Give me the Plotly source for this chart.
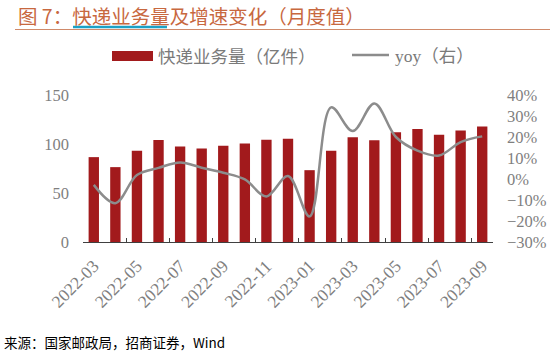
import plotly.graph_objects as go

months = ["2022-03", "2022-04", "2022-05", "2022-06", "2022-07", "2022-08", "2022-09",
          "2022-10", "2022-11", "2022-12", "2023-01", "2023-02", "2023-03", "2023-04",
          "2023-05", "2023-06", "2023-07", "2023-08", "2023-09"]
volume = [86.6, 76.4, 93.0, 104.0, 97.5, 95.5, 98.3, 100.6, 104.4, 105.4, 73.3, 93.1,
          106.8, 103.7, 111.9, 115.4, 109.5, 113.9, 117.8]
yoy = [-2.8, -11.5, 1.9, 5.3, 7.9, 5.4, 3.0, -0.2, -8.3, 1.4, -17.8, 34.1, 22.8, 36.0,
       20.0, 13.5, 11.2, 17.6, 20.3]
left_ticks = [0, 50, 100, 150]
right_ticks = [-30, -20, -10, 0, 10, 20, 30, 40]
right_labels = ["−30%", "−20%", "−10%", "0%", "10%", "20%", "30%", "40%"]
x_labels = months[::2]

title_text = "图 7：快递业务量及增速变化（月度值）"
bar_name = "快递业务量（亿件）"
line_name = "yoy（右）"
source_text = "来源：国家邮政局，招商证券，Wind"

W, H = 550, 356
L, R, T, B = 83, 57, 95, 114
PW, PH = W - L - R, H - T - B


def px(x):
    return (x - L) / PW


def py(y):
    return (H - B - y) / PH


BAR_COLOR = "#A21A1C"
LINE_COLOR = "#8C8C8C"
TICK_FONT = dict(family="Liberation Serif, serif", size=16.5, color="#7F7F7F")
X_TICK_FONT = dict(family="Liberation Serif, serif", size=17.5, color="#7F7F7F")

fig = go.Figure()
fig.add_trace(go.Bar(x=months, y=volume, name=bar_name, marker_color=BAR_COLOR,
                     marker_line_width=0, width=0.48, yaxis="y"))
fig.add_trace(go.Scatter(x=months, y=yoy, name=line_name, mode="lines",
                         line=dict(color=LINE_COLOR, width=2.5, shape="spline", smoothing=1),
                         yaxis="y2"))

fig.update_layout(
    width=W, height=H,
    margin=dict(l=L, r=R, t=T, b=B, pad=0, autoexpand=False),
    paper_bgcolor="white", plot_bgcolor="white",
    showlegend=False,
    xaxis=dict(type="category", categoryorder="array", categoryarray=months,
               tickmode="array", tickvals=x_labels, ticktext=x_labels,
               tickson="boundaries", ticks="inside", ticklen=4, tickwidth=1,
               tickcolor="#404040", tickangle=-45, tickfont=X_TICK_FONT,
               ticklabelstandoff=6, automargin=False,
               showline=True, linecolor="#404040", linewidth=1,
               showgrid=False, zeroline=False, range=[-0.5, 18.5]),
    yaxis=dict(range=[0, 150], tickmode="array", tickvals=left_ticks,
               showgrid=False, zeroline=False, showline=False, ticks="",
               tickfont=TICK_FONT, ticklabelstandoff=13, automargin=False),
    yaxis2=dict(range=[-30, 40], tickmode="array", tickvals=right_ticks, ticktext=right_labels,
                overlaying="y", side="right",
                showgrid=False, zeroline=False, showline=False, ticks="",
                tickfont=TICK_FONT, ticklabelstandoff=13, automargin=False),
)

shapes = [
    dict(type="line", xref="paper", yref="paper", x0=px(15), x1=px(550), y0=py(29.5), y1=py(29.5),
         line=dict(color="#D08A6A", width=1)),
    dict(type="line", xref="paper", yref="paper", x0=px(73), x1=px(167), y0=py(27), y1=py(27),
         line=dict(color="#1BA1C6", width=2.5)),
    dict(type="rect", xref="paper", yref="paper", x0=px(112), x1=px(153), y0=py(61), y1=py(51),
         fillcolor=BAR_COLOR, line=dict(width=0)),
    dict(type="line", xref="paper", yref="paper", x0=px(352), x1=px(389), y0=py(55), y1=py(55),
         line=dict(color=LINE_COLOR, width=2.5)),
]
annotations = [
    dict(text=title_text, xref="paper", yref="paper", x=px(16), y=py(15), xanchor="left",
         yanchor="middle", showarrow=False,
         font=dict(family="Noto Sans CJK SC", size=19.5, color="#C8683F")),
    dict(text=bar_name, xref="paper", yref="paper", x=px(156), y=py(56), xanchor="left",
         yanchor="middle", showarrow=False,
         font=dict(family="Noto Sans CJK SC", size=17.5, color="#7A7A7A")),
    dict(text=line_name, xref="paper", yref="paper", x=px(393), y=py(56), xanchor="left",
         yanchor="middle", showarrow=False,
         font=dict(family="Liberation Serif, Noto Sans CJK SC", size=17.5, color="#7A7A7A")),
    dict(text=source_text, xref="paper", yref="paper", x=px(2), y=py(342), xanchor="left",
         yanchor="middle", showarrow=False,
         font=dict(family="Noto Sans CJK SC", size=13.5, color="#000000")),
]
fig.update_layout(shapes=shapes, annotations=annotations)

fig.write_html("out.html", config=dict(displayModeBar=False),
               post_script="document.body.style.margin='0px';")
